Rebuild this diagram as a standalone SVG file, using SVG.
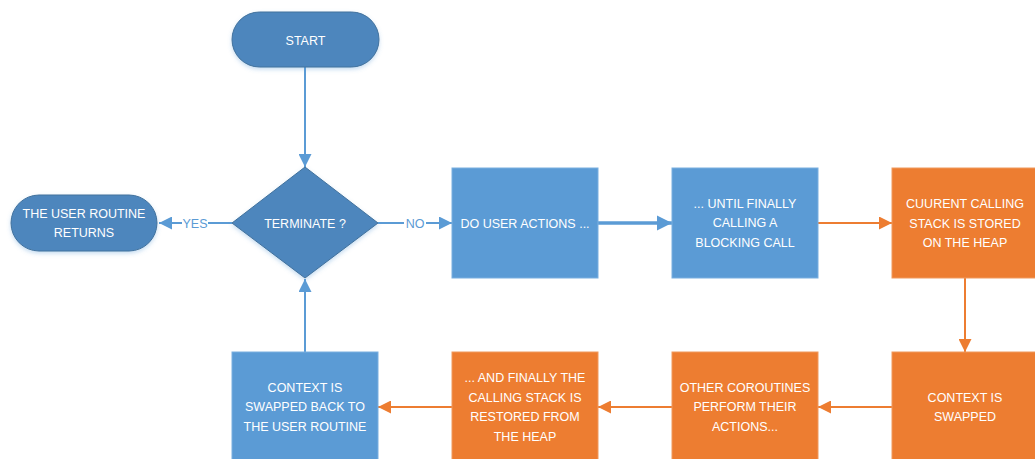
<svg xmlns="http://www.w3.org/2000/svg" width="1035" height="459" viewBox="0 0 1035 459">
  <style>
    .term { fill: #4E86BD; stroke: #41719C; stroke-width: 1; filter: url(#soft); }
    .blue { fill: #5B9BD5; stroke: #7AAFE0; stroke-width: 1; }
    .orange { fill: #ED7D31; stroke: #F09A5E; stroke-width: 1; }
    .lbl { font-family: "Liberation Sans", Arial, sans-serif; font-size: 12.5px; fill: #FFFFFF; text-anchor: middle; }
    .edge { font-family: "Liberation Sans", Arial, sans-serif; font-size: 12.5px; fill: #5B9BD5; text-anchor: middle; }
    .lb { stroke: #5B9BD5; stroke-width: 2; fill: none; }
    .lo { stroke: #ED7D31; stroke-width: 2; fill: none; }
  </style>
  <defs>
    <filter id="soft" x="-20%" y="-20%" width="140%" height="150%">
      <feGaussianBlur in="SourceAlpha" stdDeviation="2"/>
      <feOffset dy="2" result="b"/>
      <feFlood flood-color="#5B9BD5" flood-opacity="0.35"/>
      <feComposite in2="b" operator="in"/>
      <feMerge><feMergeNode/><feMergeNode in="SourceGraphic"/></feMerge>
    </filter>
    <marker id="ab" viewBox="0 0 10 10" refX="10" refY="5" markerWidth="6.5" markerHeight="6.5" markerUnits="strokeWidth" orient="auto">
      <path d="M0,0 L10,5 L0,10 Z" fill="#5B9BD5"/>
    </marker>
    <marker id="abw" viewBox="0 0 10 10" refX="10" refY="5" markerWidth="4.3" markerHeight="4.3" markerUnits="strokeWidth" orient="auto">
      <path d="M0,0 L10,5 L0,10 Z" fill="#5B9BD5"/>
    </marker>
    <marker id="ao" viewBox="0 0 10 10" refX="10" refY="5" markerWidth="6.5" markerHeight="6.5" markerUnits="strokeWidth" orient="auto">
      <path d="M0,0 L10,5 L0,10 Z" fill="#ED7D31"/>
    </marker>
  </defs>

  <rect width="1035" height="459" fill="#FFFFFF"/>

  <!-- connectors -->
  <g id="connectors">
    <line class="lb" x1="305" y1="67" x2="305" y2="167" marker-end="url(#ab)"/>
    <line class="lb" x1="232" y1="223" x2="208" y2="223"/>
    <line class="lb" x1="182" y1="223" x2="159" y2="223" marker-end="url(#ab)"/>
    <text class="edge" x="195" y="227.5">YES</text>
    <line class="lb" x1="378" y1="223" x2="404" y2="223"/>
    <line class="lb" x1="426" y1="223" x2="452" y2="223" marker-end="url(#ab)"/>
    <text class="edge" x="415" y="227.5">NO</text>
    <line x1="598" y1="223" x2="672" y2="223" stroke="#5B9BD5" stroke-width="3.5" marker-end="url(#abw)"/>
    <line class="lo" x1="818" y1="223" x2="892" y2="223" marker-end="url(#ao)"/>
    <line class="lo" x1="965" y1="278" x2="965" y2="352" marker-end="url(#ao)"/>
    <line class="lo" x1="892" y1="407" x2="818" y2="407" marker-end="url(#ao)"/>
    <line class="lo" x1="672" y1="407" x2="598" y2="407" marker-end="url(#ao)"/>
    <line class="lo" x1="452" y1="407" x2="378" y2="407" marker-end="url(#ao)"/>
    <line class="lb" x1="305" y1="352" x2="305" y2="279" marker-end="url(#ab)"/>
  </g>

  <g id="start">
    <rect class="term" x="232" y="12" width="147" height="55" rx="27.5"/>
    <text class="lbl" x="305.5" y="44.5">START</text>
  </g>

  <g id="terminate">
    <polygon class="term" points="305,167 378,223 305,278 232,223"/>
    <text class="lbl" x="305" y="227.5">TERMINATE ?</text>
  </g>

  <g id="user-returns">
    <rect class="term" x="11" y="195" width="146" height="56" rx="28"/>
    <text class="lbl" x="84" y="217.5">THE USER ROUTINE</text>
    <text class="lbl" x="84" y="236.5">RETURNS</text>
  </g>

  <g id="do-user-actions">
    <rect class="blue" x="452" y="168" width="146" height="110"/>
    <text class="lbl" x="525" y="227.5">DO USER ACTIONS ...</text>
  </g>

  <g id="blocking-call">
    <rect class="blue" x="672" y="168" width="146" height="110"/>
    <text class="lbl" x="745" y="207.5">... UNTIL FINALLY</text>
    <text class="lbl" x="745" y="227">CALLING A</text>
    <text class="lbl" x="745" y="246.5">BLOCKING CALL</text>
  </g>

  <g id="stack-stored">
    <rect class="orange" x="892" y="168" width="146" height="110"/>
    <text class="lbl" x="965" y="208">CUURENT CALLING</text>
    <text class="lbl" x="965" y="227.5">STACK IS STORED</text>
    <text class="lbl" x="965" y="247">ON THE HEAP</text>
  </g>

  <g id="context-swapped">
    <rect class="orange" x="892" y="352" width="146" height="110"/>
    <text class="lbl" x="965" y="401.5">CONTEXT IS</text>
    <text class="lbl" x="965" y="420.5">SWAPPED</text>
  </g>

  <g id="other-coroutines">
    <rect class="orange" x="672" y="352" width="146" height="110"/>
    <text class="lbl" x="745" y="391.5">OTHER COROUTINES</text>
    <text class="lbl" x="745" y="411">PERFORM THEIR</text>
    <text class="lbl" x="745" y="431">ACTIONS...</text>
  </g>

  <g id="stack-restored">
    <rect class="orange" x="452" y="352" width="146" height="110"/>
    <text class="lbl" x="525" y="382">... AND FINALLY THE</text>
    <text class="lbl" x="525" y="401.5">CALLING STACK IS</text>
    <text class="lbl" x="525" y="421">RESTORED FROM</text>
    <text class="lbl" x="525" y="440.5">THE HEAP</text>
  </g>

  <g id="swapped-back">
    <rect class="blue" x="232" y="352" width="146" height="110"/>
    <text class="lbl" x="305" y="391.5">CONTEXT IS</text>
    <text class="lbl" x="305" y="411">SWAPPED BACK TO</text>
    <text class="lbl" x="305" y="431">THE USER ROUTINE</text>
  </g>
</svg>
